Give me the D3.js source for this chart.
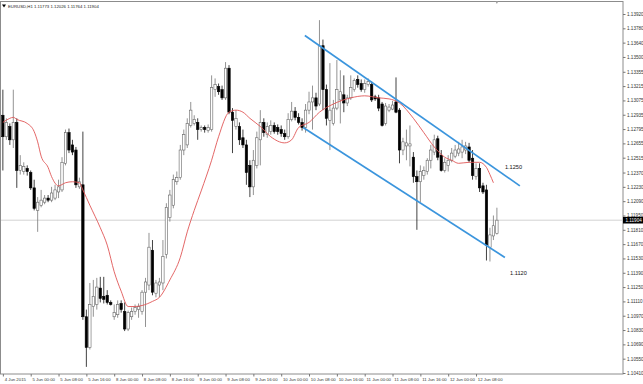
<!DOCTYPE html>
<html>
<head>
<meta charset="utf-8">
<script src="https://cdn.jsdelivr.net/npm/d3@7/dist/d3.min.js"></script>
<style>
  body { margin: 0; background: #fff; }
  svg text { font-family: "Liberation Sans", Arial, sans-serif; fill: #222; }
</style>
</head>
<body>
<svg id="chart" width="643" height="384"></svg>
<script>
// EURUSD H1, 4 Jun 16:00 .. 12 Jun 14:00 (one value per bar)
var opens = [
  1.1293, 1.1272, 1.1282, 1.1269, 1.1286, 1.1239, 1.1238, 1.1241, 1.1237, 1.1222,
  1.1200, 1.1205, 1.1208, 1.1212, 1.1210, 1.1212, 1.1218, 1.1220, 1.1246, 1.1276,
  1.1264, 1.1259, 1.1223, 1.1225, 1.1096, 1.1066, 1.1106, 1.1108, 1.1124, 1.1116,
  1.1117, 1.1110, 1.1096, 1.1098, 1.1109, 1.1101, 1.1084, 1.1096, 1.1101, 1.1103,
  1.1101, 1.1120, 1.1127, 1.1161, 1.1119, 1.1127, 1.1129, 1.1157, 1.1193, 1.1205,
  1.1228, 1.1232, 1.1259, 1.1264, 1.1283, 1.1285, 1.1286, 1.1279, 1.1281, 1.1278,
  1.1279, 1.1318, 1.1321, 1.1318, 1.1310, 1.1339, 1.1296, 1.1282, 1.1282, 1.1271,
  1.1264, 1.1244, 1.1223, 1.1244, 1.1269, 1.1286, 1.1274, 1.1277, 1.1283, 1.1281,
  1.1279, 1.1275, 1.1272, 1.1289, 1.1297, 1.1291, 1.1286, 1.1281, 1.1298, 1.1306,
  1.1310, 1.1304, 1.1361, 1.1318, 1.1288, 1.1285, 1.1300, 1.1308, 1.1313, 1.1305,
  1.1310, 1.1318, 1.1328, 1.1324, 1.1318, 1.1323, 1.1323, 1.1311, 1.1310, 1.1304,
  1.1285, 1.1298, 1.1299, 1.1306, 1.1298, 1.1259, 1.1263, 1.1263, 1.1252, 1.1233,
  1.1228, 1.1234, 1.1238, 1.1249, 1.1257, 1.1270, 1.1254, 1.1239, 1.1244, 1.1249,
  1.1253, 1.1256, 1.1257, 1.1259, 1.1262, 1.1251, 1.1233, 1.1241, 1.1224, 1.1220,
  1.1164, 1.1175, 1.11773
];
var highs = [
  1.1318, 1.1290, 1.1285, 1.1318, 1.1290, 1.1254, 1.1247, 1.1244, 1.1239, 1.1230,
  1.1213, 1.1220, 1.1215, 1.1215, 1.1223, 1.1225, 1.1230, 1.1252, 1.1279, 1.1280,
  1.1269, 1.1262, 1.1232, 1.1277, 1.1103, 1.1129, 1.1132, 1.1134, 1.1135, 1.1135,
  1.1122, 1.1112, 1.1108, 1.1112, 1.1112, 1.1110, 1.1102, 1.1105, 1.1108, 1.1109,
  1.1122, 1.1134, 1.1178, 1.1171, 1.1132, 1.1134, 1.1171, 1.1207, 1.1220, 1.1235,
  1.1238, 1.1264, 1.1279, 1.1290, 1.1306, 1.1293, 1.1290, 1.1283, 1.1283, 1.1284,
  1.1332, 1.1329, 1.1324, 1.1322, 1.1345, 1.1342, 1.1300, 1.1298, 1.1286, 1.1279,
  1.1269, 1.1249, 1.1259, 1.1277, 1.1298, 1.1290, 1.1286, 1.1288, 1.1286, 1.1284,
  1.1283, 1.1279, 1.1295, 1.1306, 1.1301, 1.1295, 1.1290, 1.1304, 1.1316, 1.1322,
  1.1315, 1.1386, 1.1367, 1.1323, 1.1344, 1.1308, 1.1347, 1.1337, 1.1332, 1.1313,
  1.1332, 1.1329, 1.1332, 1.1328, 1.1328, 1.1329, 1.1326, 1.1313, 1.1313, 1.1306,
  1.1305, 1.1304, 1.1307, 1.1330, 1.1300, 1.1271, 1.1279, 1.1283, 1.1257, 1.1239,
  1.1244, 1.1243, 1.1251, 1.1264, 1.1274, 1.1273, 1.1259, 1.1251, 1.1254, 1.1261,
  1.1264, 1.1267, 1.1269, 1.1267, 1.1266, 1.1259, 1.1246, 1.1246, 1.1227, 1.1225,
  1.1183, 1.1195, 1.12026
];
var lows = [
  1.1239, 1.1269, 1.1264, 1.1261, 1.1222, 1.1235, 1.1235, 1.1234, 1.1220, 1.1200,
  1.1179, 1.1203, 1.1206, 1.1208, 1.1208, 1.1210, 1.1212, 1.1218, 1.1244, 1.1256,
  1.1254, 1.1222, 1.1221, 1.1093, 1.1047, 1.1064, 1.1096, 1.1103, 1.1110, 1.1109,
  1.1108, 1.1107, 1.1093, 1.1095, 1.1100, 1.1082, 1.1082, 1.1093, 1.1098, 1.1095,
  1.1098, 1.1086, 1.1122, 1.1117, 1.1115, 1.1115, 1.1122, 1.1153, 1.1189, 1.1202,
  1.1225, 1.1230, 1.1254, 1.1261, 1.1281, 1.1283, 1.1269, 1.1277, 1.1276, 1.1276,
  1.1277, 1.1311, 1.1313, 1.1308, 1.1308, 1.1294, 1.1256, 1.1279, 1.1264, 1.1261,
  1.1225, 1.1213, 1.1215, 1.1241, 1.1244, 1.1272, 1.1271, 1.1274, 1.1275, 1.1274,
  1.1272, 1.1269, 1.1270, 1.1287, 1.1288, 1.1284, 1.1278, 1.1276, 1.1294, 1.1279,
  1.1298, 1.1302, 1.1298, 1.1283, 1.1259, 1.1283, 1.1298, 1.1285, 1.1296, 1.1302,
  1.1308, 1.1316, 1.1320, 1.1316, 1.1315, 1.1321, 1.1306, 1.1307, 1.1297, 1.1282,
  1.1283, 1.1296, 1.1298, 1.1295, 1.1246, 1.1254, 1.1249, 1.1243, 1.1227, 1.1181,
  1.1208, 1.1230, 1.1235, 1.1241, 1.1254, 1.1249, 1.1238, 1.1237, 1.1238, 1.1247,
  1.1251, 1.1253, 1.1251, 1.1255, 1.1247, 1.1230, 1.1230, 1.1218, 1.1216, 1.1151,
  1.1150, 1.1171, 1.11764
];
var closes = [
  1.1272, 1.1286, 1.1269, 1.1286, 1.1239, 1.1244, 1.1243, 1.1238, 1.1222, 1.1202,
  1.1208, 1.1210, 1.1212, 1.1210, 1.1217, 1.1220, 1.1223, 1.1247, 1.1276, 1.1259,
  1.1257, 1.1225, 1.1228, 1.1096, 1.1066, 1.1108, 1.1116, 1.1125, 1.1114, 1.1113,
  1.1110, 1.1108, 1.1100, 1.1108, 1.1103, 1.1084, 1.1100, 1.1101, 1.1105, 1.1106,
  1.1120, 1.1130, 1.1164, 1.1120, 1.1129, 1.1130, 1.1155, 1.1203, 1.1215, 1.1230,
  1.1232, 1.1259, 1.1274, 1.1285, 1.1298, 1.1289, 1.1279, 1.1281, 1.1279, 1.1281,
  1.1320, 1.1323, 1.1316, 1.1310, 1.1339, 1.1296, 1.1288, 1.1290, 1.1269, 1.1264,
  1.1237, 1.1223, 1.1249, 1.1271, 1.1286, 1.1276, 1.1282, 1.1283, 1.1277, 1.1277,
  1.1275, 1.1272, 1.1289, 1.1297, 1.1291, 1.1286, 1.1281, 1.1298, 1.1306, 1.1310,
  1.1302, 1.1361, 1.1318, 1.1290, 1.1298, 1.1300, 1.1318, 1.1316, 1.1305, 1.1310,
  1.1320, 1.1327, 1.1323, 1.1318, 1.1324, 1.1326, 1.1308, 1.1309, 1.1300, 1.1283,
  1.1302, 1.1301, 1.1303, 1.1296, 1.1259, 1.1267, 1.1266, 1.1265, 1.1233, 1.1228,
  1.1238, 1.1239, 1.1249, 1.1259, 1.1269, 1.1252, 1.1239, 1.1247, 1.1249, 1.1256,
  1.1259, 1.1260, 1.1262, 1.1263, 1.1249, 1.1234, 1.1241, 1.1222, 1.1218, 1.1166,
  1.1176, 1.1185, 1.11904
];

// moving average at these bars
var maIdx = [0, 2, 3, 4, 7, 9, 10, 11, 13, 14, 16, 18, 20, 22, 23, 25, 28, 30, 32, 34,
  36, 38, 40, 43, 45, 48, 51, 53, 55, 57, 60, 62, 65, 67, 69, 71, 74, 77, 81, 83,
  85, 88, 91, 95, 100, 104, 108, 111, 114, 118, 121, 124, 127, 129, 131, 134, 137, 139, 140, 141];
var maVals = [1.1286, 1.1290, 1.1291, 1.1289, 1.1285, 1.1277, 1.1267, 1.1253, 1.1242, 1.1233,
  1.1224, 1.1227, 1.1228, 1.1227, 1.1220, 1.1205, 1.1183, 1.1166, 1.1140, 1.1121,
  1.1106, 1.1106, 1.1107, 1.1111, 1.1115, 1.1132, 1.1154, 1.1179, 1.1200, 1.1219,
  1.1249, 1.1272, 1.1296, 1.1298, 1.1296, 1.1290, 1.1282, 1.1272, 1.1266, 1.1269,
  1.1281, 1.1286, 1.1296, 1.1304, 1.1310, 1.1312, 1.1310, 1.1309, 1.1305, 1.1290,
  1.1276, 1.1262, 1.1252, 1.1249, 1.1246, 1.1247, 1.1247, 1.1242, 1.1235, 1.1227];

// channel trendlines (bar index, price)
var upperIdx = [86.8, 148.6], upperPx = [1.1371, 1.1224];
var lowerIdx = [86.3, 144.3], lowerPx = [1.1281, 1.1154];

// text objects on the chart
var noteText = ['1.1250', '1.1120'];
var noteIdx = [144.3, 145.8];
var notePx = [1.1242, 1.1139];

// axis labels
var timeLabels = ['4 Jun 2015', '5 Jun 00:00', '5 Jun 08:00', '5 Jun 16:00', '8 Jun 00:00', '8 Jun 08:00',
  '8 Jun 16:00', '9 Jun 00:00', '9 Jun 08:00', '9 Jun 16:00', '10 Jun 00:00', '10 Jun 08:00',
  '10 Jun 16:00', '11 Jun 00:00', '11 Jun 08:00', '11 Jun 16:00', '12 Jun 00:00', '12 Jun 08:00'];
var timeIdx = [0, 8, 16, 24, 32, 40, 48, 56, 64, 72, 80, 88, 96, 104, 112, 120, 128, 136];
var priceLabels = ['1.13920', '1.13780', '1.13640', '1.13500', '1.13355', '1.13215', '1.13075',
  '1.12935', '1.12795', '1.12655', '1.12515', '1.12370', '1.12230', '1.12090', '1.11950',
  '1.11810', '1.11670', '1.11530', '1.11390', '1.11250', '1.11110', '1.10970', '1.10830',
  '1.10690', '1.10550', '1.10410'];

var symbol = 'EURUSD,H1';

var plotR = 623, plotB = 374;
var svg = d3.select('#chart');

var x = d3.scaleLinear().domain([0, closes.length - 1]).range([2.87, 496.9]);
var y = d3.scaleLinear().domain([1.10410, 1.13920]).range([373, 14]);

// frame
svg.append('rect')
  .attr('x', 0.5).attr('y', 1.5)
  .attr('width', plotR - 0.5).attr('height', plotB - 1.5)
  .attr('fill', 'none').attr('stroke', '#8c8c8c').attr('stroke-width', 1);

// chart shift marker at the last bar
svg.append('path')
  .attr('d', 'M' + (x(closes.length - 1) - 1.5) + ',1 h3 l-1.5,3 z')
  .attr('fill', '#999');

var last = closes[closes.length - 1];

// bid line
svg.append('line')
  .attr('x1', 1).attr('x2', plotR)
  .attr('y1', y(last)).attr('y2', y(last))
  .attr('stroke', '#c6c6c6').attr('stroke-width', 0.8);

var bars = d3.range(closes.length).map(function(i) {
  return { i: i, o: opens[i], h: highs[i], l: lows[i], c: closes[i] };
});

var bw = 2.4;
var cg = svg.append('g');

cg.selectAll('line.wick').data(bars).enter().append('line')
  .attr('class', 'wick')
  .attr('x1', function(d) { return x(d.i); })
  .attr('x2', function(d) { return x(d.i); })
  .attr('y1', function(d) { return y(d.h); })
  .attr('y2', function(d) { return y(d.l); })
  .attr('stroke', function(d) { return d.c >= d.o ? '#777' : '#111'; })
  .attr('stroke-width', 0.8);

cg.selectAll('rect.body').data(bars).enter().append('rect')
  .attr('class', 'body')
  .attr('x', function(d) { return x(d.i) - bw / 2; })
  .attr('width', bw)
  .attr('y', function(d) { return y(Math.max(d.o, d.c)); })
  .attr('height', function(d) { return Math.max(0.6, Math.abs(y(d.o) - y(d.c))); })
  .attr('fill', function(d) { return d.c >= d.o ? '#fff' : '#000'; })
  .attr('stroke', function(d) { return d.c >= d.o ? '#666' : '#000'; })
  .attr('stroke-width', 0.6);

// moving average
var ma = maIdx.map(function(v, k) { return [v, maVals[k]]; });
svg.append('path')
  .datum(ma)
  .attr('d', d3.line()
    .x(function(d) { return x(d[0]); })
    .y(function(d) { return y(d[1]); })
    .curve(d3.curveMonotoneX))
  .attr('fill', 'none')
  .attr('stroke', '#e05656')
  .attr('stroke-width', 0.9);

// channel
[[upperIdx, upperPx], [lowerIdx, lowerPx]].forEach(function(t) {
  svg.append('line')
    .attr('x1', x(t[0][0])).attr('y1', y(t[1][0]))
    .attr('x2', x(t[0][1])).attr('y2', y(t[1][1]))
    .attr('stroke', '#3b95dd').attr('stroke-width', 1.7);
});

noteText.forEach(function(s, k) {
  svg.append('text')
    .attr('x', x(noteIdx[k])).attr('y', y(notePx[k]))
    .attr('dy', '0.35em')
    .style('font-size', '5.6px')
    .style('fill', '#111')
    .text(s);
});

// price axis
var yAxis = d3.axisRight(y)
  .tickValues(priceLabels.map(Number))
  .tickFormat(function(d, k) { return priceLabels[k]; })
  .tickSize(2.5)
  .tickPadding(1.5)
  .tickSizeOuter(0);
var ya = svg.append('g').attr('transform', 'translate(' + plotR + ',0)').call(yAxis);
ya.select('.domain').remove();
ya.selectAll('line').attr('stroke', '#777');
ya.selectAll('text').style('font-size', '4.6px').style('fill', '#333');

// time axis
var xAxis = d3.axisBottom(x)
  .tickValues(timeIdx)
  .tickFormat(function(d, k) { return timeLabels[k]; })
  .tickSize(2.5)
  .tickPadding(1.5)
  .tickSizeOuter(0);
var xa = svg.append('g').attr('transform', 'translate(0,' + plotB + ')').call(xAxis);
xa.select('.domain').remove();
xa.selectAll('line').attr('stroke', '#777');
xa.selectAll('text')
  .attr('text-anchor', 'start')
  .attr('dx', '0.3em')
  .style('font-size', '4.3px')
  .style('fill', '#333');

// current price tag
svg.append('rect')
  .attr('x', plotR).attr('y', y(last) - 3.3)
  .attr('width', 20).attr('height', 6.6)
  .attr('fill', '#000');
svg.append('text')
  .attr('x', plotR + 2.5).attr('y', y(last))
  .attr('dy', '0.35em')
  .style('font-size', '4.6px')
  .style('fill', '#fff')
  .text(last.toFixed(5));

// header
svg.append('path').attr('d', 'M2,4.5 h4 l-2,3 z').attr('fill', '#000');
svg.append('text')
  .attr('x', 8).attr('y', 7.8)
  .style('font-size', '4.3px')
  .text([symbol, opens[opens.length - 1].toFixed(5), highs[highs.length - 1].toFixed(5),
    lows[lows.length - 1].toFixed(5), last.toFixed(5)].join(' '));
</script>
</body>
</html>
